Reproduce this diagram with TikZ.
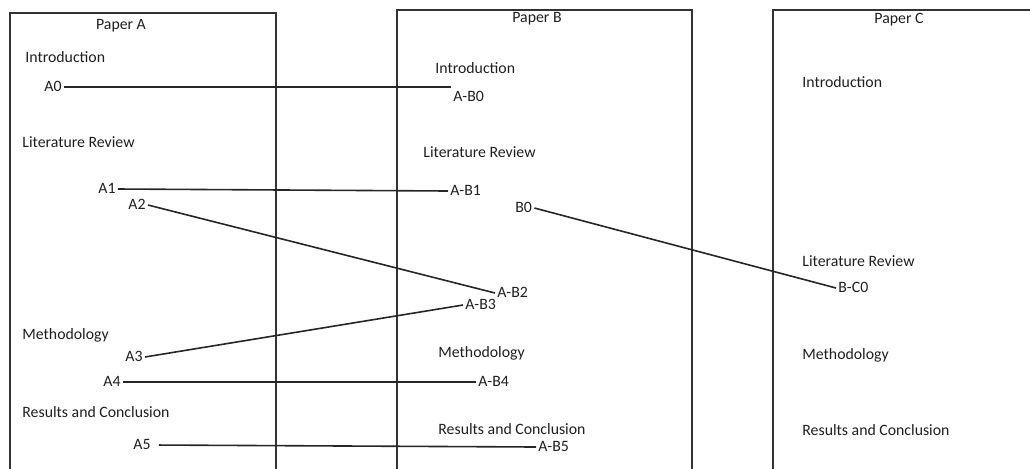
\documentclass[tikz,border=0pt]{standalone}
\usepackage{fontspec}
\setmainfont{Carlito}
\usepackage{tikz}
\usetikzlibrary{arrows}

\begin{document}
\begin{tikzpicture}[x=0.5pt,y=-0.5pt,
	sec/.style={anchor=west,inner sep=1pt,text=black!88,font=\fontsize{7.9}{9}\selectfont,text height=6pt,text depth=1.5pt},
	title/.style={sec,anchor=center},
	link/.style={draw=black!85,line width=0.8pt},
	paper/.style={draw=black!80,line width=0.75pt}]
		\clip (0,0) rectangle (1030,468);
%		\draw[help lines,step=50] (0,0) grid (1030,468);

		% paper boxes (open at the bottom)
		\draw[paper] (10,480) |- (276,13) -- (276,480);
		\draw[paper] (397,480) |- (692,10) -- (692,480);
		\draw[paper] (773,480) |- (1040,10);

		\path (121,25) coordinate (pa);
		\path (537,18) coordinate (pb);
		\path (899,19) coordinate (pc);

		\path (23,58) coordinate (aintro_p);
		\path (42,87) coordinate (a0_p);
		\path (20,143) coordinate (alit_p);
		\path (96,189) coordinate (a1_p);
		\path (126,205) coordinate (a2_p);
		\path (20,335) coordinate (ameth_p);
		\path (123,357) coordinate (a3_p);
		\path (101,382) coordinate (a4_p);
		\path (20,413) coordinate (ares_p);
		\path (131,445) coordinate (a5_p);

		\path (433,69) coordinate (bintro_p);
		\path (451,97) coordinate (ab0_p);
		\path (421,153) coordinate (blit_p);
		\path (448,191) coordinate (ab1_p);
		\path (513,208) coordinate (b0_p);
		\path (495,293) coordinate (ab2_p);
		\path (463,305) coordinate (ab3_p);
		\path (436,353) coordinate (bmeth_p);
		\path (476,382) coordinate (ab4_p);
		\path (436,430) coordinate (bres_p);
		\path (536,447) coordinate (ab5_p);

		\path (800,83) coordinate (cintro_p);
		\path (800,262) coordinate (clit_p);
		\path (836,288) coordinate (bc0_p);
		\path (800,355) coordinate (cmeth_p);
		\path (800,431) coordinate (cres_p);

		\draw (pa) node[title] (papera) {Paper A};
		\draw (pb) node[title] (paperb) {Paper B};
		\draw (pc) node[title] (paperc) {Paper C};

		\draw (aintro_p) node[sec] (aintro) {Introduction};
		\draw (a0_p) node[sec] (a0) {A0};
		\draw (alit_p) node[sec] (alit) {Literature Review};
		\draw (a1_p) node[sec] (a1) {A1};
		\draw (a2_p) node[sec] (a2) {A2};
		\draw (ameth_p) node[sec] (ameth) {Methodology};
		\draw (a3_p) node[sec] (a3) {A3};
		\draw (a4_p) node[sec] (a4) {A4};
		\draw (ares_p) node[sec] (ares) {Results and Conclusion};
		\draw (a5_p) node[sec] (a5) {A5};

		\draw (bintro_p) node[sec] (bintro) {Introduction};
		\draw (ab0_p) node[sec] (ab0) {A-B0};
		\draw (blit_p) node[sec] (blit) {Literature Review};
		\draw (ab1_p) node[sec] (ab1) {A-B1};
		\draw (b0_p) node[sec] (b0) {B0};
		\draw (ab2_p) node[sec] (ab2) {A-B2};
		\draw (ab3_p) node[sec] (ab3) {A-B3};
		\draw (bmeth_p) node[sec] (bmeth) {Methodology};
		\draw (ab4_p) node[sec] (ab4) {A-B4};
		\draw (bres_p) node[sec] (bres) {Results and Conclusion};
		\draw (ab5_p) node[sec] (ab5) {A-B5};

		\draw (cintro_p) node[sec] (cintro) {Introduction};
		\draw (clit_p) node[sec] (clit) {Literature Review};
		\draw (bc0_p) node[sec] (bc0) {B-C0};
		\draw (cmeth_p) node[sec] (cmeth) {Methodology};
		\draw (cres_p) node[sec] (cres) {Results and Conclusion};

		% links between papers
		\draw[link] (a0.east) -- (a0.east -| ab0.north west);
		\draw[link] (a1.east) -- (ab1.west);
		\draw[link] (a2.east) -- (ab2.west);
		\draw[link] (a3.east) -- (ab3.west);
		\draw[link] (a4.east) -- (ab4.west);
		\draw[link,shorten <=3pt] (a5.east) -- (ab5.west);
		\draw[link] (b0.east) -- (bc0.west);

	\end{tikzpicture}
\end{document}
